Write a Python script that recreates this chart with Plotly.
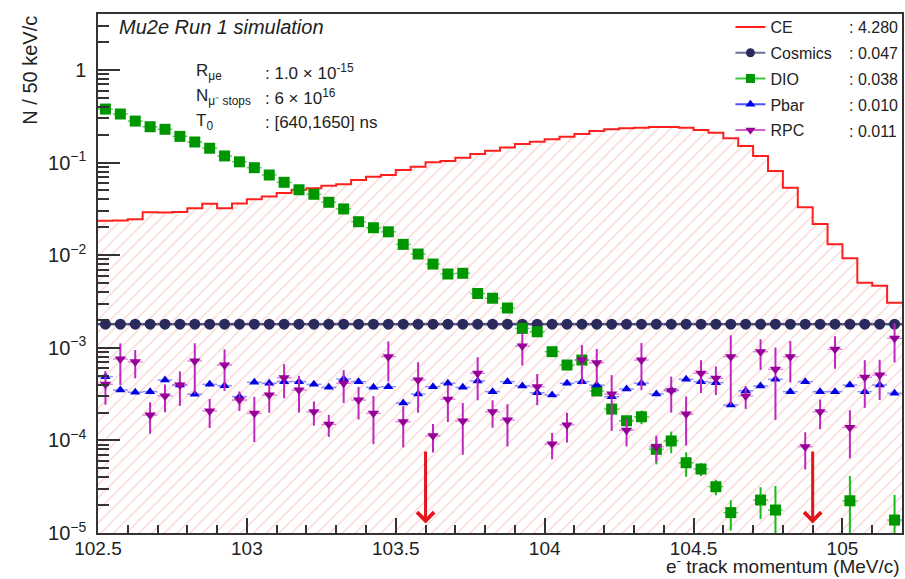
import math
import plotly.graph_objects as go

# ---------------- data ----------------
bin_low = 102.5
bin_width = 0.05
n_bins = 54
centers = [round(bin_low + bin_width * (i + 0.5), 4) for i in range(n_bins)]
edges = [round(bin_low + bin_width * i, 4) for i in range(n_bins + 1)]

ce_vals = [0.0236, 0.0237, 0.0244, 0.0291, 0.0289, 0.0293, 0.0321, 0.0360, 0.0321, 0.0362,
           0.0402, 0.0431, 0.0470, 0.0509, 0.0528, 0.0563, 0.0583, 0.0649, 0.0705, 0.0735,
           0.0832, 0.0903, 0.1007, 0.104, 0.113, 0.124, 0.1345, 0.146, 0.159, 0.168,
           0.179, 0.1905, 0.204, 0.219, 0.229, 0.2346, 0.238, 0.242, 0.242, 0.238,
           0.225, 0.2105, 0.183, 0.151, 0.118, 0.0811, 0.0536, 0.0329, 0.0217, 0.0131,
           0.00926, 0.00505, 0.00469, 0.00307]

cosmics_vals = [1.8e-3, 1.8e-3, 1.8e-3, 1.8e-3, 1.8e-3, 1.8e-3, 1.8e-3, 1.8e-3, 1.8e-3, 1.8e-3,
                1.8e-3, 1.8e-3, 1.8e-3, 1.8e-3, 1.8e-3, 1.8e-3, 1.8e-3, 1.8e-3, 1.8e-3, 1.8e-3,
                1.8e-3, 1.8e-3, 1.8e-3, 1.8e-3, 1.8e-3, 1.8e-3, 1.8e-3, 1.8e-3, 1.8e-3, 1.8e-3,
                1.8e-3, 1.8e-3, 1.8e-3, 1.8e-3, 1.8e-3, 1.8e-3, 1.8e-3, 1.8e-3, 1.8e-3, 1.8e-3,
                1.8e-3, 1.8e-3, 1.8e-3, 1.8e-3, 1.8e-3, 1.8e-3, 1.8e-3, 1.8e-3, 1.8e-3, 1.8e-3,
                1.8e-3, 1.8e-3, 1.8e-3, 1.8e-3]

dio_vals = [0.379, 0.335, 0.281, 0.244, 0.229, 0.192, 0.167, 0.143, 0.118, 0.102,
            0.0881, 0.0735, 0.0613, 0.0509, 0.0455, 0.0373, 0.0316, 0.0230, 0.0198, 0.0179,
            0.0131, 0.0103, 0.00803, 0.00627, 0.00638, 0.00386, 0.00343, 0.00269, 0.00162, 0.00149,
            0.000908, 0.000652, 0.000738, 0.000342, 0.000218, 0.000163, 0.000180, 8.01e-5, 9.86e-5, 5.74e-5,
            4.91e-5, 3.16e-5, 1.66e-5, None, 2.27e-5, 1.77e-5, None, None, None, None,
            2.23e-5, None, None, 1.38e-5]

dio_err = [0.008, 0.007, 0.006, 0.006, 0.005, 0.005, 0.004, 0.004, 0.003, 0.003,
           0.0025, 0.0022, 0.0019, 0.0016, 0.0015, 0.0013, 0.0011, 0.0009, 0.0008, 0.0007,
           0.0005, 0.0004, 0.0003, 0.00025, 0.00025, 0.00016, 0.00015, 0.00012, 0.00008, 0.00008,
           0.00006, 0.00005, 0.00007, 0.00004, 0.00003, 0.00002, 0.00003, 2.5e-5, 2.6e-5, 1.7e-5,
           0.8e-5, 0.6e-5, 0.6e-5, None, 0.85e-5, 1.45e-5, None, None, None, None,
           1.9e-5, None, None, 1.2e-5]

pbar_vals = [4.88e-4, 3.50e-4, 3.31e-4, 3.36e-4, 4.49e-4, 3.96e-4, 3.15e-4, 4.03e-4, 3.90e-4, 2.97e-4,
             4.24e-4, 4.14e-4, 4.31e-4, 4.31e-4, 4.03e-4, 3.74e-4, 4.60e-4, 4.31e-4, 3.74e-4, 3.80e-4,
             2.54e-4, 3.17e-4, 3.80e-4, 4.14e-4, 3.74e-4, 4.38e-4, 3.36e-4, 4.31e-4, 3.87e-4, 3.27e-4,
             3.09e-4, 4.14e-4, 4.31e-4, 3.96e-4, 2.97e-4, 3.59e-4, 4.14e-4, 3.17e-4, 3.50e-4, 4.57e-4,
             4.31e-4, 4.20e-4, 2.41e-4, 3.44e-4, 3.87e-4, 4.57e-4, 3.36e-4, 4.31e-4, 3.36e-4, 3.36e-4,
             3.96e-4, 3.36e-4, 3.96e-4, 3.23e-4]

rpc_vals = [4.03e-4, 7.57e-4, 7.08e-4, 1.88e-4, 3.02e-4, 3.96e-4, 7.20e-4, 2.08e-4, 6.52e-4, 2.73e-4,
            1.96e-4, 3.09e-4, 4.75e-4, 3.50e-4, 2.04e-4, 1.49e-4, 4.14e-4, 2.73e-4, 1.96e-4, 8.02e-4,
            1.59e-4, 4.49e-4, 1.12e-4, 2.78e-4, 1.62e-4, 5.31e-4, 2.04e-4, 1.66e-4, 1.046e-3, 3.80e-4,
            9.14e-5, 1.47e-4, 7.38e-4, 6.90e-4, 3.17e-4, 1.29e-4, 7.38e-4, 8.55e-5, 3.44e-4, 1.93e-4,
            5.31e-4, 4.69e-4, 8.02e-4, 3.02e-4, 9.08e-4, 5.86e-4, 8.02e-4, 8.55e-5, 2.04e-4, 9.64e-4,
            1.38e-4, 4.80e-4, 5.08e-4, 1.267e-3]

rpc_err = [1.6e-4, 3.6e-4, 2.4e-4, 0.7e-4, 1.0e-4, 1.6e-4, 4.0e-4, 0.72e-4, 3.1e-4, 0.65e-4,
           1.0e-4, 1.1e-4, 1.9e-4, 1.5e-4, 0.6e-4, 0.4e-4, 1.6e-4, 1.05e-4, 1.05e-4, 3.7e-4,
           0.75e-4, 2.5e-4, 0.38e-4, 1.2e-4, 0.92e-4, 2.6e-4, 0.67e-4, 0.8e-4, 4.0e-4, 1.4e-4,
           0.29e-4, 0.52e-4, 3.3e-4, 2.8e-4, 1.9e-4, 0.43e-4, 3.9e-4, 0.27e-4, 1.45e-4, 1.05e-4,
           2.05e-4, 1.6e-4, 5.6e-4, 0.83e-4, 3.3e-4, 4.2e-4, 3.8e-4, 0.37e-4, 0.72e-4, 3.7e-4,
           0.74e-4, 2.55e-4, 2.35e-4, 5.7e-4]

legend_names = ["CE", "Cosmics", "DIO", "Pbar", "RPC"]
legend_counts = [": 4.280", ": 0.047", ": 0.038", ": 0.010", ": 0.011"]

x_ticks = [102.5, 103, 103.5, 104, 104.5, 105]
x_ticktext = ["102.5", "103", "103.5", "104", "104.5", "105"]
y_ticks = [1e-5, 1e-4, 1e-3, 1e-2, 1e-1, 1]
y_ticktext = ["10<sup>\u22125</sup>", "10<sup>\u22124</sup>", "10<sup>\u22123</sup>",
              "10<sup>\u22122</sup>", "10<sup>\u22121</sup>", "1"]

arrow_x = [103.6, 104.9]
arrow_tip = 1.27e-5
arrow_tail = 7.9e-5

# ---------------- styles ----------------
FONT = "Liberation Sans, Arial, Helvetica, sans-serif"
C_CE = "#ff1f1f"
C_COS = "rgb(42,42,92)"
C_DIO = "rgb(0,150,0)"
C_PBAR = "rgb(0,0,225)"
C_RPC = "rgb(150,0,150)"

fig = go.Figure()

# CE hatched area
fig.add_trace(go.Bar(
    x=centers, y=ce_vals, width=bin_width,
    marker=dict(color="rgba(0,0,0,0)", line=dict(width=0),
                pattern=dict(shape="/", fgcolor="rgba(240,95,95,0.55)",
                             bgcolor="rgba(0,0,0,0)", size=9, solidity=0.15)),
    showlegend=False, hoverinfo="skip"))
# CE outline
fig.add_trace(go.Scatter(
    x=edges, y=ce_vals + [ce_vals[-1]], mode="lines",
    line=dict(color=C_CE, width=2, shape="hv"), showlegend=False, hoverinfo="skip"))

# Cosmics
fig.add_trace(go.Scatter(
    x=centers, y=cosmics_vals, mode="markers",
    marker=dict(symbol="circle", size=11, color=C_COS),
    error_x=dict(type="constant", value=bin_width / 2, color="rgba(42,42,92,0.85)",
                 thickness=2.5, width=0),
    showlegend=False))

# DIO
fig.add_trace(go.Scatter(
    x=centers, y=dio_vals, mode="markers",
    marker=dict(symbol="square", size=11, color=C_DIO),
    error_y=dict(type="data", array=dio_err, color="rgb(20,190,20)", thickness=2, width=0),
    error_x=dict(type="constant", value=bin_width / 2, color="rgba(20,190,20,0.7)",
                 thickness=1.5, width=0),
    showlegend=False))

# Pbar
fig.add_trace(go.Scatter(
    x=centers, y=pbar_vals, mode="markers",
    marker=dict(symbol="triangle-up", size=9, color=C_PBAR),
    error_x=dict(type="constant", value=bin_width / 2, color="rgba(70,70,255,0.6)",
                 thickness=1.5, width=0),
    showlegend=False))

# RPC
fig.add_trace(go.Scatter(
    x=centers, y=rpc_vals, mode="markers",
    marker=dict(symbol="triangle-down", size=10, color=C_RPC),
    error_y=dict(type="data", array=rpc_err, color="rgb(190,40,190)", thickness=2, width=0),
    error_x=dict(type="constant", value=bin_width / 2, color="rgba(200,60,200,0.6)",
                 thickness=1.5, width=0),
    showlegend=False))

# legend entries
leg_styles = [
    dict(mode="lines", line=dict(color=C_CE, width=2)),
    dict(mode="lines+markers", line=dict(color="rgb(110,110,150)", width=2),
         marker=dict(symbol="circle", size=9, color=C_COS)),
    dict(mode="lines+markers", line=dict(color="rgb(60,200,60)", width=2),
         marker=dict(symbol="square", size=9, color=C_DIO)),
    dict(mode="lines+markers", line=dict(color="rgb(80,80,255)", width=2),
         marker=dict(symbol="triangle-up", size=9, color=C_PBAR)),
    dict(mode="lines+markers", line=dict(color="rgb(210,100,210)", width=2),
         marker=dict(symbol="triangle-down", size=9, color=C_RPC)),
]
for name, st in zip(legend_names, leg_styles):
    fig.add_trace(go.Scatter(x=[None], y=[None], name=name, legendgroup=name,
                             showlegend=True, **st))

# ---------------- annotations ----------------
# positions expressed in reference-picture pixels, converted to plot-area fractions
def px_x(p):
    return (p - 98) / 806.0


def px_y(p):
    return (533 - p) / 519.0


ann = []
ann.append(dict(text="<i>Mu2e Run 1 simulation</i>", x=px_x(117), y=px_y(27),
                xref="paper", yref="paper", xanchor="left", yanchor="middle",
                showarrow=False, font=dict(size=20, color="#222")))
param_labels = ["R<sub>\u03bce</sub>", "N<sub>\u03bc\u207b stops</sub>", "T<sub>0</sub>"]
param_vals = [": 1.0 \u00d7 10<sup>-15</sup>", ": 6 \u00d7 10<sup>16</sup>", ": [640,1650] ns"]
for k, (lab, val) in enumerate(zip(param_labels, param_vals)):
    yy = px_y(72 + 25 * k)
    ann.append(dict(text=lab, x=px_x(194), y=yy, xref="paper", yref="paper",
                    xanchor="left", yanchor="middle", showarrow=False,
                    font=dict(size=17, color="#222")))
    ann.append(dict(text=val, x=px_x(263), y=yy, xref="paper", yref="paper",
                    xanchor="left", yanchor="middle", showarrow=False,
                    font=dict(size=17, color="#222")))
for k, cnt in enumerate(legend_counts):
    ann.append(dict(text=cnt, x=px_x(849), y=px_y(27 + 26 * k), xref="paper", yref="paper",
                    xanchor="left", yanchor="middle", showarrow=False,
                    font=dict(size=16, color="#222")))
ann.append(dict(text="e<sup>-</sup> track momentum (MeV/c)", x=1.0, y=px_y(565),
                xref="paper", yref="paper", xanchor="right", yanchor="middle",
                showarrow=False, font=dict(size=19, color="#222")))
ann.append(dict(text="N / 50 keV/c", x=px_x(29), y=1.0, xref="paper", yref="paper",
                xanchor="center", yanchor="top", textangle=-90,
                showarrow=False, font=dict(size=20, color="#222")))
for ax_ in arrow_x:
    ann.append(dict(x=ax_, y=math.log10(arrow_tip), ax=ax_, ay=math.log10(arrow_tail),
                    xref="x", yref="y", axref="x", ayref="y", text="", showarrow=True,
                    arrowhead=4, arrowsize=1.1, arrowwidth=3, arrowcolor="#e5141a"))

fig.update_layout(
    width=905, height=579,
    margin=dict(l=98, r=1, t=14, b=46),
    paper_bgcolor="white", plot_bgcolor="white",
    font=dict(family=FONT, color="#222"),
    bargap=0,
    showlegend=True,
    legend=dict(x=px_x(732), y=px_y(10), xanchor="left", yanchor="top",
                bgcolor="rgba(0,0,0,0)", font=dict(size=16, color="#222"),
                tracegroupgap=2, itemwidth=30),
    annotations=ann,
    xaxis=dict(range=[102.5, 105.2], tickvals=x_ticks, ticktext=x_ticktext,
               ticks="inside", ticklen=15, tickwidth=1.5, tickcolor="#333",
               minor=dict(ticks="inside", ticklen=8, tickwidth=1.5, tickcolor="#333",
                          dtick=0.1, tick0=102.5),
               showline=True, mirror=True, linecolor="#333", linewidth=1.5,
               showgrid=False, zeroline=False, tickfont=dict(size=19, color="#222"),
               ticklabelstandoff=-3),
    yaxis=dict(type="log", range=[-5, 0.605], tickvals=y_ticks, ticktext=y_ticktext,
               ticks="inside", ticklen=22, tickwidth=1.5, tickcolor="#333",
               minor=dict(ticks="inside", ticklen=11, tickwidth=1.5, tickcolor="#333",
                          dtick="D1"),
               showline=True, mirror=True, linecolor="#333", linewidth=1.5,
               showgrid=False, zeroline=False, tickfont=dict(size=20, color="#222"),
               ticklabelstandoff=6),
)

fig.write_html(
    "out.html",
    config={"displayModeBar": False},
    post_script="document.body.style.margin='0';document.body.style.overflow='hidden';",
)
